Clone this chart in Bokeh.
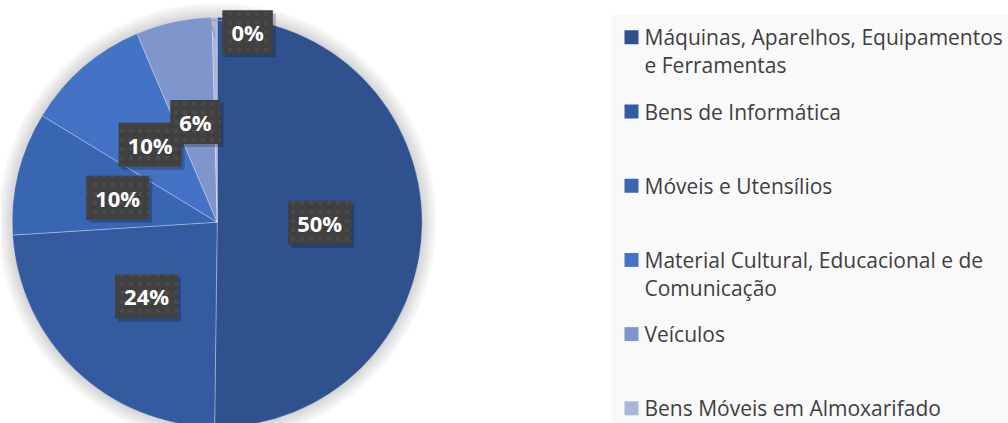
import math
from bokeh.plotting import figure
from bokeh.models import Range1d, ColumnDataSource
from bokeh.core.properties import value
from bokeh.embed import file_html
from bokeh.resources import INLINE

# ---------------- data ----------------
categories = [
    "Máquinas, Aparelhos, Equipamentos\ne Ferramentas",
    "Bens de Informática",
    "Móveis e Utensílios",
    "Material Cultural, Educacional e de\nComunicação",
    "Veículos",
    "Bens Móveis em Almoxarifado",
]
values = [50.2, 23.8, 9.7, 9.9, 6.0, 0.4]
colors = ["#2F528F", "#345BA0", "#3966B3", "#4472C4", "#7F96CD", "#A9B6DB"]

# ---------------- layout (page pixels) ----------------
W, H = 1008, 423
CX, CY, R = 216.7, 221.7, 205


def py(y):
    return H - y


p = figure(width=W, height=H, x_range=Range1d(0, W), y_range=Range1d(0, H),
           output_backend="svg", toolbar_location=None, min_border=0)
p.axis.visible = False
p.grid.visible = False
p.outline_line_color = None
p.background_fill_color = "white"
p.border_fill_color = "white"

# soft shadow around the pie
for k in range(14):
    p.circle(x=[CX], y=[py(CY)], radius=R + 1 + k * 1.1, radius_units="screen",
             fill_color="black", fill_alpha=0.011, line_color=None)

total = sum(values)
starts, ends, mids = [], [], []
c = 0.0
for v in values:
    f0, f1 = c / total, (c + v) / total
    starts.append(math.pi / 2 - 2 * math.pi * f0)
    ends.append(math.pi / 2 - 2 * math.pi * f1)
    mids.append(math.pi / 2 - 2 * math.pi * (f0 + f1) / 2)
    c += v

src = ColumnDataSource(dict(x=[CX] * len(values), y=[py(CY)] * len(values),
                            s=starts, e=ends, color=colors))
p.wedge(x="x", y="y", radius=R, radius_units="screen", start_angle="s", end_angle="e",
        direction="clock", fill_color="color", line_color="white", line_alpha=0.3,
        line_width=1, source=src)

# data labels
label_r = [0.5, 0.5, 0.5, 0.5, 0.5, 1.0]
label_off = [(0, 0), (0, 0), (0, 0), (0, 0), (0, 0), (33, 15)]
lx, ly, xo, yo, txt = [], [], [], [], []
for v, m, rf, off in zip(values, mids, label_r, label_off):
    lx.append(CX + rf * R * math.cos(m))
    ly.append(py(CY - rf * R * math.sin(m)))
    xo.append(off[0])
    yo.append(off[1])
    txt.append(f"{round(v / total * 100)}%")

# leader line for the outside label
m = mids[-1]
ax, ay = CX + 0.9 * R * math.cos(m), CY - 0.9 * R * math.sin(m)
ex, ey = CX + R * math.cos(m), CY - R * math.sin(m)
bx = ex + label_off[-1][0]
p.line(x=[ax, ex - 4, bx - 25], y=[py(ay), py(ey + 3.3), py(ey + 3.3)],
       line_color="#9A9A9A", line_width=1.2)

lsrc = ColumnDataSource(dict(x=lx, y=ly, t=txt, xo=xo, yo=yo,
                             xs=[a + 3 for a in xo], ys=[b + 3 for b in yo]))
pad = dict(left=9, right=9, top=7, bottom=7)
p.text(x="x", y="y", text="t", x_offset="xs", y_offset="ys", source=lsrc,
       text_alpha=0, text_font=value("Open Sans"), text_font_style="bold",
       text_font_size="22px", text_align="center", text_baseline="middle",
       background_fill_color="black", background_fill_alpha=0.22, padding=pad)
p.text(x="x", y="y", text="t", x_offset="xo", y_offset="yo", source=lsrc,
       text_color="white", text_font=value("Open Sans"), text_font_style="bold",
       text_font_size="22px", text_align="center", text_baseline="middle",
       background_fill_color="#404040", background_hatch_pattern="dot",
       background_hatch_color="#4A4A4A", background_hatch_scale=9, padding=pad)

# legend
LX0, LY0, LDY, LLINE = 611, 14, 74.2, 28
p.quad(left=[LX0], right=[W], top=[py(LY0)], bottom=[0], fill_color="#F9F9F9", line_color=None)
mx, my, tx, ty, tt = [], [], [], [], []
for i, cat in enumerate(categories):
    yc = 36.8 + i * LDY
    mx.append(631)
    my.append(py(yc))
    for j, line in enumerate(cat.split("\n")):
        tx.append(644)
        ty.append(py(yc + j * LLINE))
        tt.append(line)
p.scatter(x=mx, y=my, marker="square", size=14, fill_color=colors, line_color=None)
p.text(x=tx, y=ty, text=tt, text_font=value("Open Sans"), text_font_size="21px",
       text_color="#404040", text_align="left", text_baseline="middle")

open("out.html", "w").write(file_html(p, INLINE))
